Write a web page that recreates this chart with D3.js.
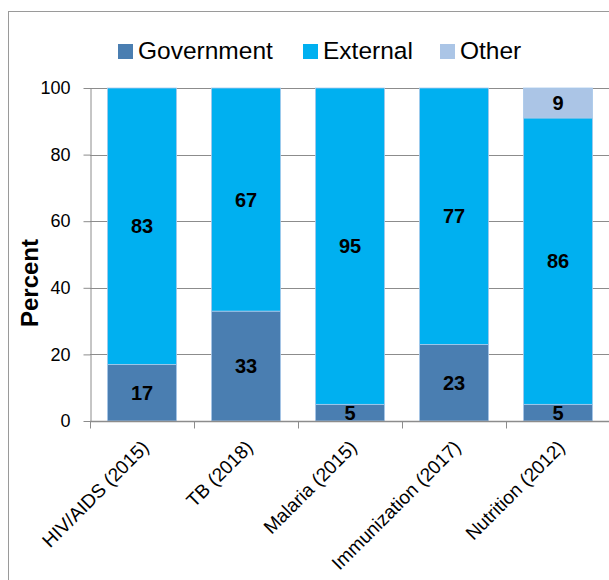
<!DOCTYPE html>
<html>
<head>
<meta charset="utf-8">
<script src="https://cdn.jsdelivr.net/npm/d3@7/dist/d3.min.js"></script>
<style>
  html, body { margin: 0; padding: 0; background: #fff; }
  svg { display: block; font-family: "Liberation Sans", Arial, sans-serif; }
</style>
</head>
<body>
<svg id="chart" width="609" height="580"></svg>
<script>
// Funding sources by programme area (percent of total)
const categories = ["HIV/AIDS (2015)", "TB (2018)", "Malaria (2015)", "Immunization (2017)", "Nutrition (2012)"];
const seriesNames = ["Government", "External", "Other"];
const government = [17, 33, 5, 23, 5];
const external = [83, 67, 95, 77, 86];
const other = [0, 0, 0, 0, 9];
const yTicks = [0, 20, 40, 60, 80, 100];

const colors = { Government: "#4a7eb1", External: "#00b0f0", Other: "#abc5e6" };

const rows = categories.map((c, i) => ({
  category: c,
  Government: government[i],
  External: external[i],
  Other: other[i]
}));

const svg = d3.select("#chart");
const W = 609, H = 580;
const plot = { left: 90, right: 610, top: 88, bottom: 421 };

// outer chart frame
svg.append("rect")
  .attr("x", 8.5).attr("y", 11.5)
  .attr("width", W + 20).attr("height", H + 20)
  .attr("fill", "none").attr("stroke", "#9a9a9a").attr("stroke-width", 1);

const x = d3.scaleBand()
  .domain(categories)
  .range([plot.left, plot.right])
  .paddingInner(0.335)
  .paddingOuter(0.1675);

const y = d3.scaleLinear().domain([0, 100]).range([plot.bottom, plot.top]);

// horizontal gridlines
svg.append("g").selectAll("line")
  .data(yTicks.filter(t => t > 0))
  .join("line")
  .attr("x1", plot.left).attr("x2", W)
  .attr("y1", d => Math.round(y(d)) + 0.5).attr("y2", d => Math.round(y(d)) + 0.5)
  .attr("stroke", "#8c8c8c").attr("stroke-width", 1);

// stacked bars
const stack = d3.stack().keys(seriesNames)(rows);

const layers = svg.append("g").selectAll("g")
  .data(stack)
  .join("g")
  .attr("fill", d => colors[d.key]);

layers.selectAll("rect")
  .data(d => d.map(v => ({ key: d.key, v })))
  .join("rect")
  .filter(d => d.v[1] - d.v[0] > 0)
  .attr("x", d => x(d.v.data.category))
  .attr("width", x.bandwidth())
  .attr("y", d => y(d.v[1]))
  .attr("height", d => y(d.v[0]) - y(d.v[1]))
  .attr("stroke", "#a9c9ea")
  .attr("stroke-width", 0.8);

// value labels
const labels = [];
stack.forEach(layer => layer.forEach(v => {
  const val = v[1] - v[0];
  if (val > 0) labels.push({ cat: v.data.category, mid: (v[0] + v[1]) / 2, val });
}));

svg.append("g").selectAll("text")
  .data(labels)
  .join("text")
  .attr("x", d => x(d.cat) + x.bandwidth() / 2)
  .attr("y", d => y(d.mid))
  .attr("dy", "0.36em")
  .attr("text-anchor", "middle")
  .attr("font-size", 20)
  .attr("font-weight", "bold")
  .attr("fill", "#000")
  .text(d => d.val);

// y axis
const yAxis = svg.append("g").attr("transform", `translate(${plot.left + 0.5},0)`)
  .call(d3.axisLeft(y).tickValues(yTicks).tickSize(7).tickPadding(13).tickSizeOuter(0));
yAxis.select(".domain").attr("stroke", "#8c8c8c");
yAxis.selectAll(".tick line").attr("stroke", "#8c8c8c");
yAxis.selectAll(".tick text").attr("font-size", 18).attr("fill", "#000")
  .attr("font-family", "Liberation Sans, Arial, sans-serif");

// x axis with ticks on band boundaries
const xAxis = svg.append("g").attr("transform", `translate(0,${plot.bottom + 0.5})`);
xAxis.append("line")
  .attr("x1", plot.left).attr("x2", W)
  .attr("stroke", "#8c8c8c").attr("stroke-width", 1.5);
const bounds = categories.map(c => x(c) - x.step() * x.paddingInner() / 2);
bounds.push(plot.right);
xAxis.selectAll("line.tk")
  .data(bounds)
  .join("line")
  .attr("class", "tk")
  .attr("x1", d => Math.round(d) + 0.5).attr("x2", d => Math.round(d) + 0.5)
  .attr("y1", 0).attr("y2", 7)
  .attr("stroke", "#8c8c8c");

xAxis.selectAll("text")
  .data(categories)
  .join("text")
  .attr("transform", d => `translate(${x(d) + x.bandwidth() / 2 + 8},${27}) rotate(-45)`)
  .attr("text-anchor", "end")
  .attr("font-size", 19)
  .attr("fill", "#000")
  .text(d => d);

// y axis title
svg.append("text")
  .attr("transform", "translate(38,283) rotate(-90)")
  .attr("text-anchor", "middle")
  .attr("font-size", 24)
  .attr("font-weight", "bold")
  .text("Percent");

// legend
const legendX = [118, 303, 440];
const legend = svg.append("g").selectAll("g")
  .data(seriesNames)
  .join("g")
  .attr("transform", (d, i) => `translate(${legendX[i]},44)`);
legend.append("rect")
  .attr("width", 15).attr("height", 15)
  .attr("fill", d => colors[d]);
legend.append("text")
  .attr("x", 20).attr("y", 15)
  .attr("font-size", 24.5)
  .attr("fill", "#000")
  .text(d => d);
</script>
</body>
</html>
